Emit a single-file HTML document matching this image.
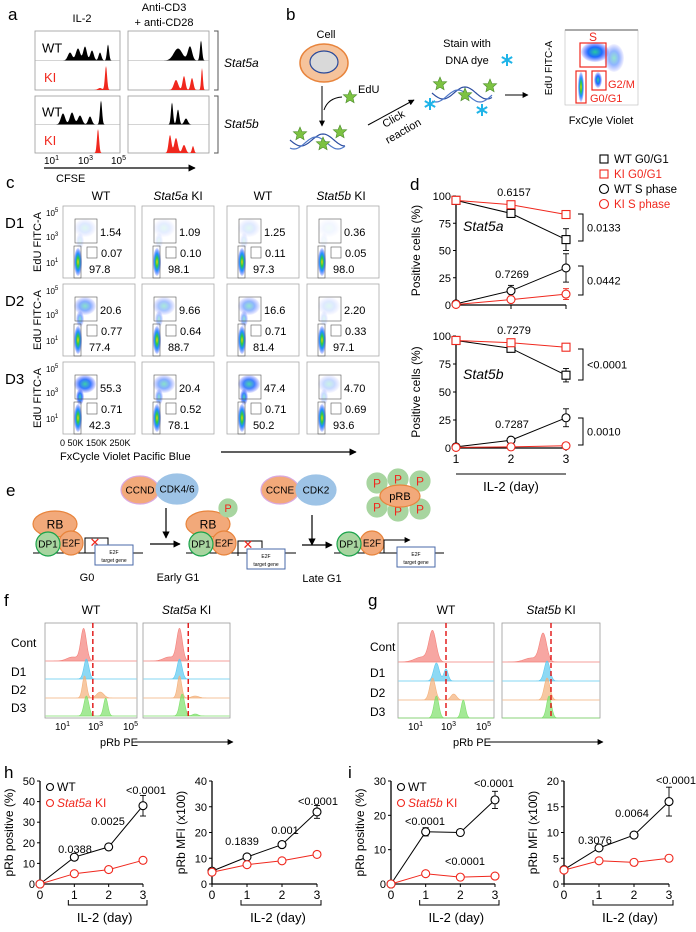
<!DOCTYPE html>
<html><head><meta charset="utf-8">
<style>
html,body{margin:0;padding:0;background:#fff;}
svg{display:block;font-family:"Liberation Sans",Arial,sans-serif;}
text{fill:#000;}
</style></head>
<body>
<svg id="fig" width="696" height="932" viewBox="0 0 696 932" xmlns="http://www.w3.org/2000/svg">
<defs>
<radialGradient id="blob" cx="50%" cy="50%" r="50%">
<stop offset="0" stop-color="#ffd000"/><stop offset="0.3" stop-color="#2ecc40"/><stop offset="0.6" stop-color="#1e90ff"/><stop offset="1" stop-color="#1f3bff" stop-opacity="0.15"/>
</radialGradient>
<radialGradient id="sblob" cx="50%" cy="50%" r="50%">
<stop offset="0" stop-color="#27c9a0"/><stop offset="0.5" stop-color="#1f6bff"/><stop offset="1" stop-color="#3040ff" stop-opacity="0.1"/>
</radialGradient>
<marker id="arr" viewBox="0 0 10 10" refX="9" refY="5" markerWidth="6" markerHeight="6" orient="auto"><path d="M0,0L10,5L0,10z" fill="#000"/></marker>
</defs>
<g id="root"></g>
</svg>
<script>
// ---------- panel d data ----------
const dDays = [1, 2, 3];
const dTicks = [0, 25, 50, 75, 100];
const d5aWtG0 = [96, 84, 60];
const d5aWtG0Err = [0, 3, 10];
const d5aKiG0 = [96, 92, 83];
const d5aKiG0Err = [0, 1, 1];
const d5aWtS = [1, 13, 34];
const d5aWtSErr = [0, 5, 13];
const d5aKiS = [0.5, 5, 10];
const d5aKiSErr = [0, 1, 5];
const d5bWtG0 = [96, 89, 65];
const d5bWtG0Err = [0, 2, 6];
const d5bKiG0 = [96, 94, 90];
const d5bKiG0Err = [0, 1, 1];
const d5bWtS = [1, 7, 27];
const d5bWtSErr = [0, 2, 8];
const d5bKiS = [0.5, 1, 2];
const d5bKiSErr = [0, 0.5, 1];
// ---------- panels h/i data ----------
const hiDays = [0, 1, 2, 3];
const h1Ticks = [0, 10, 20, 30, 40, 50];
const h1Wt = [0, 13, 18, 38];
const h1WtErr = [0, 1.5, 0.5, 5];
const h1Ki = [0, 5, 7, 11.5];
const h1KiErr = [0, 0.5, 0.5, 1.5];
const h2Ticks = [0, 10, 20, 30, 40];
const h2Wt = [5, 10.5, 15.3, 28];
const h2WtErr = [0, 0.5, 0.5, 2.5];
const h2Ki = [4.6, 7.5, 9, 11.5];
const h2KiErr = [0, 0.5, 0.5, 0.8];
const i1Ticks = [0, 10, 20, 30];
const i1Wt = [0, 15.2, 15, 24.5];
const i1WtErr = [0, 1.2, 0.4, 2.5];
const i1Ki = [0, 3, 2, 2.3];
const i1KiErr = [0, 0.4, 0.3, 0.3];
const i2Ticks = [0, 5, 10, 15, 20];
const i2Wt = [2.8, 7, 9.5, 16];
const i2WtErr = [0, 0.3, 0.3, 2.8];
const i2Ki = [2.7, 4.5, 4.2, 5];
const i2KiErr = [0, 0.3, 0.3, 0.6];

const NS = "http://www.w3.org/2000/svg";
const root = document.getElementById("root");
const RED = "#f0281e";
function mk(tag, attrs, parent) {
  const e = document.createElementNS(NS, tag);
  for (const k in attrs) e.setAttribute(k, attrs[k]);
  (parent || root).appendChild(e);
  return e;
}
function tx(x, y, s, size, opts, parent) {
  opts = opts || {};
  const e = mk("text", {x: x, y: y, "font-size": size, "text-anchor": opts.anchor || "start"}, parent);
  if (opts.fill) e.setAttribute("style", "fill:" + opts.fill);
  if (opts.italic) e.setAttribute("font-style", "italic");
  if (opts.rot) e.setAttribute("transform", "rotate(-90 " + x + " " + y + ")");
  e.innerHTML = s;
  return e;
}
function ln(x1, y1, x2, y2, col, w, parent) {
  return mk("line", {x1: x1, y1: y1, x2: x2, y2: y2, stroke: col || "#000", "stroke-width": w || 1}, parent);
}
function histPath(x0, x1, base, peaks) {
  let d = "M" + x0 + "," + base;
  for (let x = x0; x <= x1; x += 0.5) {
    let h = 0;
    peaks.forEach(p => { h += p[2] * Math.exp(-Math.pow((x - p[0]) / p[1], 2)); });
    d += "L" + x + "," + (base - h).toFixed(2);
  }
  return d + "L" + x1 + "," + base + "Z";
}

// ================= PANEL A =================
const pa = mk("g", {});


tx(8, 20, "a", 17, {}, pa);
tx(82, 22, "IL-2", 11, {anchor: "middle"}, pa);
tx(164, 11, "Anti-CD3", 11, {anchor: "middle"}, pa);
tx(164, 26, "+ anti-CD28", 11, {anchor: "middle"}, pa);
const aBoxes = [[35, 31, 120, 90], [128, 31, 209, 90], [35, 96, 120, 153], [128, 96, 209, 153]];
const aHists = [
  [[[70, 3, 8], [78, 3, 12], [85, 2.5, 14], [92, 2.5, 10], [100, 2, 8], [108, 1.5, 16]], [[106, 1.5, 24], [100, 3, 2]]],
  [[[178, 6, 12], [190, 3, 14], [201, 1.5, 20]], [[176, 3, 10], [184, 2, 14], [192, 2, 12], [202, 1.2, 22]]],
  [[[63, 3, 11], [72, 3, 12], [80, 3, 9], [90, 2.5, 8], [101, 1.5, 24]], [[98, 1.5, 24]]],
  [[[172, 1.5, 22], [178, 1.8, 15], [186, 2.5, 6]], [[170, 2, 18], [176, 2.5, 15], [184, 2.5, 8], [193, 1.5, 7]]]
];
aBoxes.forEach((b, i) => {
  const mid = (b[1] + b[3]) / 2;
  mk("rect", {x: b[0], y: b[1], width: b[2] - b[0], height: b[3] - b[1], fill: "none", stroke: "#999", "stroke-width": 0.8}, pa);
  ln(b[0], mid, b[2], mid, "#aaa", 0.6, pa);
  const w = mk("path", {d: histPath(b[0] + 1, b[2] - 1, mid, aHists[i][0]), fill: "#000"}, pa);
  
  const k = mk("path", {d: histPath(b[0] + 1, b[2] - 1, b[3], aHists[i][1]), fill: RED}, pa);
  
  if (b[0] === 35) {
    tx(42, mid - 8, "WT", 13, {}, pa);
    tx(44, b[3] - 8, "KI", 13, {fill: RED}, pa);
  }
});
mk("path", {d: "M214,31H218V90H214", fill: "none", stroke: "#555"}, pa);
mk("path", {d: "M214,96H218V153H214", fill: "none", stroke: "#555"}, pa);
tx(224, 67, "Stat5a", 12, {italic: true}, pa);
tx(224, 128, "Stat5b", 12, {italic: true}, pa);
tx(44, 164, "10<tspan font-size='7' dy='-4'>1</tspan>", 10, {}, pa);
tx(78, 164, "10<tspan font-size='7' dy='-4'>3</tspan>", 10, {}, pa);
tx(111, 164, "10<tspan font-size='7' dy='-4'>5</tspan>", 10, {}, pa);
ln(44, 168, 195, 168, "#000", 1.2, pa).setAttribute("marker-end", "url(#arr)");
tx(56, 182, "CFSE", 11, {}, pa);

// ================= PANEL B =================
const pb = mk("g", {});


tx(286, 20, "b", 17, {}, pb);
tx(326, 38, "Cell", 11, {anchor: "middle"}, pb);
mk("ellipse", {cx: 324, cy: 63, rx: 24, ry: 19, fill: "#f6c39b", stroke: "#e8843c", "stroke-width": 1.5}, pb);
mk("ellipse", {cx: 324, cy: 62, rx: 14, ry: 11, fill: "#d9d9d9", stroke: "#2a4a9a", "stroke-width": 1.2}, pb);
ln(322, 86, 322, 126, "#000", 1, pb).setAttribute("marker-end", "url(#arr)");
mk("path", {d: "M324,110 Q328,98 342,97", fill: "none", stroke: "#000"}, pb);
tx(358, 93, "EdU", 11, {}, pb);
function star(cx, cy, r, parent) {
  let d = "";
  for (let i = 0; i < 10; i++) {
    const a = -Math.PI / 2 + i * Math.PI / 5, rr = i % 2 ? r * 0.45 : r;
    d += (i ? "L" : "M") + (cx + rr * Math.cos(a)).toFixed(1) + "," + (cy + rr * Math.sin(a)).toFixed(1);
  }
  mk("path", {d: d + "Z", fill: "#7cc242", stroke: "#4a8a2a", "stroke-width": 0.6}, parent);
}
function helix(x0, x1, cy, parent) {
  let d1 = "", d2 = "";
  for (let x = x0; x <= x1; x += 1) {
    d1 += (x === x0 ? "M" : "L") + x + "," + (cy + 6 * Math.sin((x - x0) / 7)).toFixed(1);
    d2 += (x === x0 ? "M" : "L") + x + "," + (cy + 3 + 6 * Math.sin((x - x0) / 7 + 1)).toFixed(1);
  }
  mk("path", {d: d1, fill: "none", stroke: "#2c4da0", "stroke-width": 1.2}, parent);
  mk("path", {d: d2, fill: "none", stroke: "#4f78c8", "stroke-width": 1.2}, parent);
}
helix(290, 345, 140, pb);
star(300, 134, 7, pb); star(323, 144, 7, pb); star(340, 132, 7, pb); star(350, 97, 7, pb);
ln(368, 125, 414, 100, "#000", 1, pb).setAttribute("marker-end", "url(#arr)");
const cr = tx(385, 128, "Click", 11, {}, pb); cr.setAttribute("transform", "rotate(-30 385 128)");
const cr2 = tx(388, 144, "reaction", 11, {}, pb); cr2.setAttribute("transform", "rotate(-30 388 144)");
tx(467, 47, "Stain with", 11, {anchor: "middle"}, pb);
tx(467, 64, "DNA dye", 11, {anchor: "middle"}, pb);
function aster(cx, cy, r, parent) {
  for (let i = 0; i < 3; i++) {
    const a = i * Math.PI / 3 + Math.PI / 2;
    ln(cx - r * Math.cos(a), cy - r * Math.sin(a), cx + r * Math.cos(a), cy + r * Math.sin(a), "#1fb4e8", 2, parent);
  }
}
aster(507, 60, 6, pb);
helix(432, 492, 93, pb);
star(440, 84, 7, pb); star(465, 95, 7, pb); star(490, 86, 7, pb);
aster(430, 104, 6, pb); aster(482, 110, 6, pb);
ln(505, 95, 528, 95, "#000", 1, pb).setAttribute("marker-end", "url(#arr)");
mk("rect", {x: 565, y: 30, width: 73, height: 75, fill: "none", stroke: "#bbb", "stroke-width": 0.6}, pb);
ln(565, 30, 638, 30, "#aaa", 2, pb);
mk("ellipse", {cx: 595, cy: 52, rx: 14, ry: 10, fill: "url(#sblob)"}, pb);
mk("ellipse", {cx: 614, cy: 58, rx: 10, ry: 14, fill: "url(#sblob)", opacity: 0.5}, pb);
mk("ellipse", {cx: 581, cy: 87, rx: 3, ry: 15, fill: "url(#blob)"}, pb);
mk("ellipse", {cx: 598, cy: 80, rx: 4, ry: 8, fill: "url(#sblob)"}, pb);
mk("rect", {x: 580, y: 43, width: 26, height: 24, fill: "none", stroke: RED, "stroke-width": 1.2}, pb);
mk("rect", {x: 592, y: 71, width: 14, height: 19, fill: "none", stroke: RED, "stroke-width": 1.2}, pb);
mk("rect", {x: 576, y: 71, width: 10, height: 32, fill: "none", stroke: RED, "stroke-width": 1.2}, pb);
tx(593, 41, "S", 12, {anchor: "middle", fill: RED}, pb);
tx(608, 88, "G2/M", 11, {fill: RED}, pb);
tx(590, 102, "G0/G1", 11, {fill: RED}, pb);
tx(552, 68, "EdU FITC-A", 10, {anchor: "middle", rot: true}, pb);
tx(601, 124, "FxCyle Violet", 11, {anchor: "middle"}, pb);

// ================= PANEL C =================
const pc = mk("g", {});


tx(6, 188, "c", 17, {}, pc);
tx(101, 200, "WT", 12, {anchor: "middle"}, pc);
tx(178, 200, "<tspan font-style='italic'>Stat5a</tspan> KI", 12, {anchor: "middle"}, pc);
tx(263, 200, "WT", 12, {anchor: "middle"}, pc);
tx(341, 200, "<tspan font-style='italic'>Stat5b</tspan> KI", 12, {anchor: "middle"}, pc);
const cCols = [63, 142, 227, 307];
const cRows = [206, 284, 362];
const cNums = [
  [["1.54", "0.07", "97.8"], ["1.09", "0.10", "98.1"], ["1.25", "0.11", "97.3"], ["0.36", "0.05", "98.0"]],
  [["20.6", "0.77", "77.4"], ["9.66", "0.64", "88.7"], ["16.6", "0.71", "81.4"], ["2.20", "0.33", "97.1"]],
  [["55.3", "0.71", "42.3"], ["20.4", "0.52", "78.1"], ["47.4", "0.71", "50.2"], ["4.70", "0.69", "93.6"]]
];
const sIntensity = [[0.15, 0.12, 0.14, 0.06], [0.55, 0.4, 0.5, 0.15], [0.9, 0.55, 0.85, 0.25]];
cRows.forEach((ry, r) => {
  tx(5, ry + 22, "D" + (r + 1), 15, {}, pc);
  tx(41, ry + 36, "EdU FITC-A", 11, {anchor: "middle", rot: true}, pc);
  [["5", 6], ["3", 30], ["1", 56]].forEach(t => tx(46, ry + t[1] + 4, "10<tspan font-size='6' dy='-4'>" + t[0] + "</tspan>", 8, {}, pc));
  cCols.forEach((cx, c) => {
    const g = mk("g", {}, pc);
    
    mk("rect", {x: cx, y: ry, width: 72, height: 72, fill: "none", stroke: "#aaa", "stroke-width": 0.8}, g);
    const si = sIntensity[r][c];
    mk("ellipse", {cx: cx + 22, cy: ry + 22, rx: 11, ry: 9, fill: "url(#sblob)", opacity: si}, g);
    mk("ellipse", {cx: cx + 17, cy: ry + 35, rx: 4, ry: 8, fill: "url(#sblob)", opacity: si}, g);
    mk("ellipse", {cx: cx + 15, cy: ry + 56, rx: 4, ry: 14, fill: "url(#blob)"}, g);
    mk("rect", {x: cx + 12, y: ry + 13, width: 22, height: 24, fill: "none", stroke: "#555", "stroke-width": 0.6}, g);
    mk("rect", {x: cx + 24, y: ry + 41, width: 10, height: 11, fill: "none", stroke: "#555", "stroke-width": 0.6}, g);
    mk("rect", {x: cx + 11, y: ry + 40, width: 7, height: 32, fill: "none", stroke: "#555", "stroke-width": 0.6}, g);
    tx(cx + 37, ry + 30, cNums[r][c][0], 11, {}, g);
    tx(cx + 38, ry + 51, cNums[r][c][1], 11, {}, g);
    tx(cx + 26, ry + 67, cNums[r][c][2], 11, {}, g);
  });
});
tx(60, 446, "0 50K   150K 250K", 9, {}, pc);
tx(60, 460, "FxCycle Violet Pacific Blue", 11, {}, pc);
ln(221, 452, 356, 452, "#000", 1.2, pc).setAttribute("marker-end", "url(#arr)");

// ================= generic line chart =================
function lineChart(parent, opt) {
  const g = mk("g", {}, parent);
  
  
  const xs = v => opt.x0 + (v - opt.xMin) / (opt.xMax - opt.xMin) * (opt.x1 - opt.x0);
  const ys = v => opt.yB - v / opt.yMax * (opt.yB - opt.yT);
  const ax = mk("path", {d: "M" + opt.ax + "," + opt.yT + "V" + opt.yB + "H" + opt.x1, fill: "none", stroke: "#000", "stroke-width": 1.3}, g);
  
  opt.yTicks.forEach(t => {
    ln(opt.ax - 3, ys(t), opt.ax, ys(t), "#000", 1, g);
    tx(opt.ax - 5, ys(t) + 4, String(t), 11, {anchor: "end"}, g);
  });
  opt.xs.forEach(v => {
    ln(xs(v), opt.yB, xs(v), opt.yB + 3, "#000", 1, g);
    tx(xs(v), opt.yB + 15, String(v), 12, {anchor: "middle"}, g);
  });
  const yl = tx(opt.ylx, (opt.yT + opt.yB) / 2, opt.ylabel, 12, {anchor: "middle", rot: true}, g);
  
  opt.series.forEach(s => {
    const sg = mk("g", {}, g);
    
    let d = "";
    opt.xs.forEach((v, i) => { d += (i ? "L" : "M") + xs(v).toFixed(1) + "," + ys(s.v[i]).toFixed(1); });
    mk("path", {d: d, fill: "none", stroke: s.col, "stroke-width": 1}, sg);
    opt.xs.forEach((v, i) => {
      const X = xs(v), Y = ys(s.v[i]);
      if (s.e && s.e[i] > 0) {
        const e1 = ys(s.v[i] + s.e[i]), e2 = ys(Math.max(0, s.v[i] - s.e[i]));
        ln(X, e1, X, e2, s.col, 0.9, sg); ln(X - 3, e1, X + 3, e1, s.col, 0.9, sg); ln(X - 3, e2, X + 3, e2, s.col, 0.9, sg);
      }
      let m;
      if (s.shape === "sq") m = mk("rect", {x: X - 4, y: Y - 4, width: 8, height: 8, fill: "#fff", stroke: s.col, "stroke-width": 1.1}, sg);
      else m = mk("circle", {cx: X, cy: Y, r: 4, fill: "#fff", stroke: s.col, "stroke-width": 1.1}, sg);
      
    });
  });
  return {g: g, xs: xs, ys: ys};
}

// ================= PANEL D =================
const pd = mk("g", {});


tx(410, 190, "d", 17, {}, pd);
const leg = [["WT G0/G1", "#000", "sq", 163], ["KI G0/G1", RED, "sq", 178], ["WT S phase", "#000", "c", 193], ["KI S phase", RED, "c", 208]];
leg.forEach(l => {
  const lg = mk("g", {}, pd);
  
  if (l[2] === "sq") mk("rect", {x: 600, y: l[3] - 8, width: 8, height: 8, fill: "none", stroke: l[1], "stroke-width": 1.1}, lg);
  else mk("circle", {cx: 604, cy: l[3] - 4, r: 4.5, fill: "none", stroke: l[1], "stroke-width": 1.1}, lg);
  tx(614, l[3], l[0], 11.5, {fill: l[1] === "#000" ? null : l[1]}, lg);
});
const dTop = lineChart(pd, {name: "chart-d-stat5a", x0: 456, x1: 566, xMin: 1, xMax: 3, ax: 456, yT: 196, yB: 305, yMax: 100, yTicks: dTicks, xs: [], ylx: 420, ylabel: "Positive cells (%)",
  series: []});
const dBot = lineChart(pd, {name: "chart-d-stat5b", x0: 456, x1: 566, xMin: 1, xMax: 3, ax: 456, yT: 336, yB: 448, yMax: 100, yTicks: dTicks, xs: dDays, ylx: 420, ylabel: "Positive cells (%)",
  series: [
    {name: "wt-g0g1-5b", v: d5bWtG0, e: d5bWtG0Err, col: "#000", shape: "sq"},
    {name: "ki-g0g1-5b", v: d5bKiG0, e: d5bKiG0Err, col: RED, shape: "sq"},
    {name: "wt-s-5b", v: d5bWtS, e: d5bWtSErr, col: "#000", shape: "c"},
    {name: "ki-s-5b", v: d5bKiS, e: d5bKiSErr, col: RED, shape: "c"}]});
(function () {
  const xs = v => 456 + (v - 1) / 2 * 110, ys = v => 305 - v / 100 * 109;
  dDays.forEach(v => ln(xs(v), 305, xs(v), 309, "#000", 1, dTop.g));
  [[d5aWtG0, d5aWtG0Err, "#000", "sq", "wt-g0g1-5a"], [d5aKiG0, d5aKiG0Err, RED, "sq", "ki-g0g1-5a"], [d5aWtS, d5aWtSErr, "#000", "c", "wt-s-5a"], [d5aKiS, d5aKiSErr, RED, "c", "ki-s-5a"]].forEach(s => {
    const sg = mk("g", {}, dTop.g);
    
    let d = "";
    dDays.forEach((v, i) => { d += (i ? "L" : "M") + xs(v).toFixed(1) + "," + ys(s[0][i]).toFixed(1); });
    mk("path", {d: d, fill: "none", stroke: s[2], "stroke-width": 1}, sg);
    dDays.forEach((v, i) => {
      const X = xs(v), Y = ys(s[0][i]);
      if (s[1][i] > 0) {
        const e1 = ys(s[0][i] + s[1][i]), e2 = ys(Math.max(0, s[0][i] - s[1][i]));
        ln(X, e1, X, e2, s[2], 0.9, sg); ln(X - 3, e1, X + 3, e1, s[2], 0.9, sg); ln(X - 3, e2, X + 3, e2, s[2], 0.9, sg);
      }
      let m;
      if (s[3] === "sq") m = mk("rect", {x: X - 4, y: Y - 4, width: 8, height: 8, fill: "#fff", stroke: s[2], "stroke-width": 1.1}, sg);
      else m = mk("circle", {cx: X, cy: Y, r: 4, fill: "#fff", stroke: s[2], "stroke-width": 1.1}, sg);
      
    });
  });
})();
tx(514, 196, "0.6157", 11, {anchor: "middle"}, pd);
tx(512, 278, "0.7269", 11, {anchor: "middle"}, pd);
tx(514, 334, "0.7279", 11, {anchor: "middle"}, pd);
tx(512, 428, "0.7287", 11, {anchor: "middle"}, pd);
tx(463, 231, "Stat5a", 14, {italic: true}, pd);
tx(463, 379, "Stat5b", 14, {italic: true}, pd);
function bracket(x, y1, y2, label, parent) {
  mk("path", {d: "M" + x + "," + y1 + "H" + (x + 5) + "V" + y2 + "H" + x, fill: "none", stroke: "#000", "stroke-width": 1}, parent);
  tx(x + 9, (y1 + y2) / 2 + 4, label, 11, {}, parent);
}
bracket(578, 214, 241, "0.0133", pd);
bracket(578, 266, 295, "0.0442", pd);
bracket(578, 349, 380, "<0.0001", pd);
bracket(578, 418, 445, "0.0010", pd);
ln(456, 474, 566, 474, "#000", 1, pd);
tx(511, 491, "IL-2 (day)", 13, {anchor: "middle"}, pd);

// ================= PANEL E =================
const pe = mk("g", {});


tx(6, 496, "e", 17, {}, pe);
function oval(cx, cy, rx, ry, fill, stroke, label, size, parent) {
  mk("ellipse", {cx: cx, cy: cy, rx: rx, ry: ry, fill: fill, stroke: stroke, "stroke-width": 1.2}, parent);
  if (label) tx(cx, cy + size * 0.36, label, size, {anchor: "middle", fill: label === "P" ? RED : null}, parent);
}
const OR = "#f2a97a", ORS = "#e8843c", GR = "#a8d5a0", GRS = "#1aa34a", BL = "#9dc3e6";
oval(140, 490, 19, 14, OR, "#d9a8e0", "CCND", 10, pe);
oval(177, 489, 21, 15, BL, BL, "CDK4/6", 10, pe);
ln(166, 508, 166, 538, "#000", 1.2, pe).setAttribute("marker-end", "url(#arr)");
oval(280, 490, 19, 14, OR, "#d9a8e0", "CCNE", 10, pe);
oval(316, 490, 20, 15, BL, BL, "CDK2", 10, pe);
ln(312, 515, 312, 545, "#000", 1.2, pe).setAttribute("marker-end", "url(#arr)");
function complex(x, rb, g) {
  ln(x - 10, 553, x + 100, 553, "#000", 1, g);
  if (rb) oval(x + 12, 524, 22, 13, OR, ORS, "RB", 12, g);
  oval(x + 28, 543, 12, 12, OR, ORS, "E2F", 10, g);
  oval(x + 5, 544, 12, 12, GR, GRS, "DP1", 10, g);
}
complex(43, true, pe);
mk("path", {d: "M85,553V538H108V545", fill: "none", stroke: "#000"}, pe);
tx(95, 547, "✕", 13, {anchor: "middle", fill: RED}, pe);
mk("rect", {x: 95, y: 545, width: 38, height: 20, fill: "#fff", stroke: "#4a6aa8"}, pe);
tx(114, 554, "E2F", 5, {anchor: "middle"}, pe); tx(114, 562, "target gene", 5, {anchor: "middle"}, pe);
tx(87, 581, "G0", 11, {anchor: "middle"}, pe);
ln(150, 544, 180, 544, "#000", 1.2, pe).setAttribute("marker-end", "url(#arr)");
complex(196, true, pe);
oval(228, 508, 9, 9, GR, GR, "P", 11, pe);
mk("path", {d: "M238,556V541H262V548", fill: "none", stroke: "#000"}, pe);
tx(248, 549, "✕", 13, {anchor: "middle", fill: RED}, pe);
mk("rect", {x: 247, y: 549, width: 38, height: 20, fill: "#fff", stroke: "#4a6aa8"}, pe);
tx(266, 558, "E2F", 5, {anchor: "middle"}, pe); tx(266, 566, "target gene", 5, {anchor: "middle"}, pe);
tx(178, 581, "Early G1", 11, {anchor: "middle"}, pe);
ln(302, 545, 332, 545, "#000", 1.2, pe).setAttribute("marker-end", "url(#arr)");
complex(344, false, pe);
mk("path", {d: "M384,553V540H410", fill: "none", stroke: "#000"}, pe).setAttribute("marker-end", "url(#arr)");
mk("rect", {x: 397, y: 547, width: 38, height: 20, fill: "#fff", stroke: "#4a6aa8"}, pe);
tx(416, 556, "E2F", 5, {anchor: "middle"}, pe); tx(416, 564, "target gene", 5, {anchor: "middle"}, pe);
tx(322, 582, "Late G1", 11, {anchor: "middle"}, pe);
[[377, 483], [398, 479], [420, 481], [377, 507], [398, 511], [420, 509]].forEach(p => oval(p[0], p[1], 10, 10, GR, GR, "P", 12, pe));
oval(400, 496, 20, 11, OR, ORS, "pRB", 11, pe);

// ================= PANELS F/G =================
function histPanel(parent, o) {
  const g = mk("g", {}, parent);
  
  
  tx(o.lx, 606, o.letter, 17, {}, g);
  const cols = ["#f4807a", "#5cc9f0", "#f4b07a", "#7ee06a"];
  const labels = ["Cont", "D1", "D2", "D3"];
  o.boxes.forEach((b, bi) => {
    tx((b[0] + b[1]) / 2, 614, bi ? o.ki : "WT", 12, {anchor: "middle"}, g);
    mk("rect", {x: b[0], y: 623, width: b[1] - b[0], height: 95, fill: "none", stroke: "#999", "stroke-width": 0.8}, g);
    o.bases.forEach((base, r) => {
      const peaks = o.peaks[bi][r].map(p => [b[0] + p[0] * (b[1] - b[0]), p[1], p[2]]);
      const hp = mk("path", {d: histPath(b[0] + 1, b[1] - 1, base, peaks), fill: cols[r], "fill-opacity": 0.7, stroke: cols[r], "stroke-width": 0.6}, g);
      
      ln(b[0], base, b[1], base, cols[r], 0.6, g);
    });
    const dl = ln(b[0] + o.dash * (b[1] - b[0]), 623, b[0] + o.dash * (b[1] - b[0]), 718, "#e01010", 1.4, g);
    dl.setAttribute("stroke-dasharray", "5,3");
    
  });
  labels.forEach((l, r) => tx(o.rx, o.ly[r], l, 12, {}, g));
  const b0 = o.boxes[0][0];
  tx(b0 + 10, 730, "10<tspan font-size='7' dy='-4'>1</tspan>", 10, {}, g);
  tx(b0 + 43, 730, "10<tspan font-size='7' dy='-4'>3</tspan>", 10, {}, g);
  tx(b0 + 78, 730, "10<tspan font-size='7' dy='-4'>5</tspan>", 10, {}, g);
  tx(o.boxes[0][0] + 55, 746, "pRb PE", 11, {}, g);
  ln(o.boxes[0][0] + 90, 742, o.boxes[1][1] + 3, 742, "#000", 1, g).setAttribute("marker-end", "url(#arr)");
}
const fPeaks = [
  [[[0.42, 4, 32], [0.3, 8, 4]], [[0.45, 3.5, 20]], [[0.43, 3, 22], [0.6, 5, 6]], [[0.45, 3.5, 20], [0.66, 3, 18]]],
  [[[0.42, 4, 32], [0.3, 8, 4]], [[0.42, 3.5, 20]], [[0.42, 3, 22], [0.6, 5, 2]], [[0.45, 3.5, 22], [0.6, 4, 2]]]
];
histPanel(root, {name: "panel-f", letter: "f", lx: 4, rx: 11, ki: "<tspan font-style='italic'>Stat5a</tspan> KI", boxes: [[45, 137], [143, 230]],
  bases: [661, 679, 698, 716], ly: [647, 676, 694, 712], dash: 0.52, peaks: fPeaks});
const gPeaks = [
  [[[0.36, 5, 30], [0.25, 10, 5]], [[0.4, 4, 18], [0.5, 3, 12]], [[0.36, 4, 22], [0.58, 4, 6]], [[0.4, 3.5, 22], [0.68, 3, 18]]],
  [[[0.42, 5, 28], [0.3, 10, 4]], [[0.46, 4, 20]], [[0.46, 4, 22]], [[0.48, 3.5, 22]]]
];
histPanel(root, {name: "panel-g", letter: "g", lx: 368, rx: 370, ki: "<tspan font-style='italic'>Stat5b</tspan> KI", boxes: [[398, 494], [502, 600]],
  bases: [662, 681, 700, 718], ly: [651, 677, 697, 716], dash: 0.5, peaks: gPeaks});

// ================= PANELS H/I =================
function hiChart(parent, o) {
  const c = lineChart(parent, {name: o.name, x0: o.ax, x1: o.x3, xMin: 0, xMax: 3, ax: o.ax, yT: 781, yB: 884, yMax: o.yMax, yTicks: o.ticks, xs: hiDays, ylx: o.ax - 27, ylabel: o.ylabel,
    series: [{name: "wt-series", v: o.wt, e: o.wtE, col: "#000", shape: "c"}, {name: "ki-series", v: o.ki, e: o.kiE, col: RED, shape: "c"}]});
  const xs = c.xs;
  mk("path", {d: "M" + (xs(1) - 6) + "," + 900 + "V905H" + (xs(3) + 4) + "V900", fill: "none", stroke: "#000"}, c.g);
  tx((xs(1) + xs(3)) / 2 - 4, 922, "IL-2 (day)", 13, {anchor: "middle"}, c.g);
  o.ann.forEach(a => tx(a[0], a[1], a[2], 11, {anchor: "middle"}, c.g));
  return c;
}
const ph = mk("g", {});


tx(4, 778, "h", 17, {}, ph);
hiChart(ph, {name: "chart-h-pct", ax: 40, x3: 143, yMax: 50, ticks: h1Ticks, wt: h1Wt, wtE: h1WtErr, ki: h1Ki, kiE: h1KiErr, ylabel: "pRb positive (%)",
  ann: [[75, 853, "0.0388"], [108, 825, "0.0025"], [146, 794, "<0.0001"]]});
hiChart(ph, {name: "chart-h-mfi", ax: 212, x3: 317, yMax: 40, ticks: h2Ticks, wt: h2Wt, wtE: h2WtErr, ki: h2Ki, kiE: h2KiErr, ylabel: "pRb MFI (x100)",
  ann: [[242, 845, "0.1839"], [285, 834, "0.001"], [318, 805, "<0.0001"]]});
function hLegend(parent, x, ki) {
  const l1 = mk("g", {}, parent); 
  mk("circle", {cx: x, cy: 787, r: 3.5, fill: "none", stroke: "#000", "stroke-width": 1.1}, l1);
  tx(x + 7, 791, "WT", 12, {}, l1);
  const l2 = mk("g", {}, parent); 
  mk("circle", {cx: x, cy: 803, r: 3.5, fill: "none", stroke: RED, "stroke-width": 1.1}, l2);
  tx(x + 7, 807, "<tspan font-style='italic'>" + ki + "</tspan> KI", 12, {fill: RED}, l2);
}
hLegend(ph, 50, "Stat5a");
const pi = mk("g", {});


tx(348, 778, "i", 17, {}, pi);
hiChart(pi, {name: "chart-i-pct", ax: 391, x3: 495, yMax: 30, ticks: i1Ticks, wt: i1Wt, wtE: i1WtErr, ki: i1Ki, kiE: i1KiErr, ylabel: "pRb positive (%)",
  ann: [[425, 825, "<0.0001"], [465, 865, "<0.0001"], [494, 787, "<0.0001"]]});
hiChart(pi, {name: "chart-i-mfi", ax: 564, x3: 669, yMax: 20, ticks: i2Ticks, wt: i2Wt, wtE: i2WtErr, ki: i2Ki, kiE: i2KiErr, ylabel: "pRb MFI (x100)",
  ann: [[595, 844, "0.3076"], [632, 817, "0.0064"], [676, 784, "<0.0001"]]});
hLegend(pi, 401, "Stat5b");
</script>
</body></html>
